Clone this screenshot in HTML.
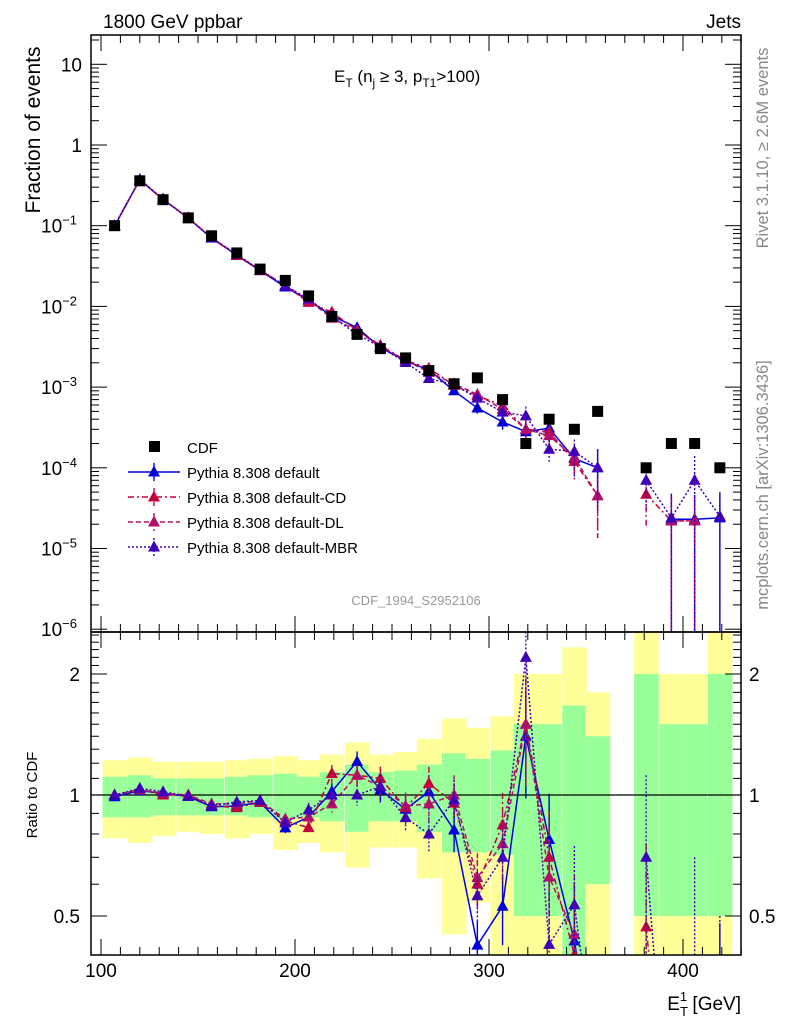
<!DOCTYPE html>
<html><head><meta charset="utf-8"><style>
html,body{margin:0;background:#fff;width:786px;height:1024px;overflow:hidden}
svg{display:block;font-family:"Liberation Sans",sans-serif}
</style></head><body>
<svg id="c" width="786" height="1024" viewBox="0 0 786 1024">
<defs>
<clipPath id="cm"><rect x="91" y="35" width="650" height="597"/></clipPath>
<clipPath id="cr"><rect x="91" y="632" width="650" height="323"/></clipPath>
</defs>
<g id="bands" clip-path="url(#cr)"></g>
<g id="main" clip-path="url(#cm)"></g>
<g id="ratio" clip-path="url(#cr)"></g>
<g id="axes"></g>
<text x="103" y="28" font-size="19">1800 GeV ppbar</text>
<text x="741" y="28" font-size="19" text-anchor="end">Jets</text>
<text x="334" y="82" font-size="17">E<tspan font-size="12" dy="5">T</tspan><tspan dy="-5"> (n</tspan><tspan font-size="12" dy="5">j</tspan><tspan dy="-5"> ≥ 3, p</tspan><tspan font-size="12" dy="5">T1</tspan><tspan dy="-5">&gt;100)</tspan></text>
<text x="416" y="605" font-size="13" fill="#999" text-anchor="middle">CDF_1994_S2952106</text>
<text transform="translate(40,130) rotate(-90)" font-size="21" text-anchor="middle">Fraction of events</text>
<text transform="translate(37,795) rotate(-90)" font-size="15" text-anchor="middle">Ratio to CDF</text>
<text x="741" y="1010" font-size="19" text-anchor="end">E<tspan font-size="13" dy="6">T</tspan><tspan font-size="13" dy="-15" dx="-8">1</tspan><tspan dy="9"> [GeV]</tspan></text>
<text transform="translate(768,148) rotate(-90)" font-size="16.5" fill="#888" text-anchor="middle">Rivet 3.1.10, ≥ 2.6M events</text>
<text transform="translate(768,485) rotate(-90)" font-size="16.5" fill="#888" text-anchor="middle">mcplots.cern.ch [arXiv:1306.3436]</text>
<g id="legend"></g>
</svg>
<script>
const centers=[107,120,132,145,157,170,182,195,207,219,232,244,257,269,282,294,307,319,331,344,356,369,381,394,406,419];
const cdf=[0.1,0.36,0.21,0.125,0.075,0.046,0.029,0.021,0.0135,0.0075,0.0045,0.003,0.0023,0.0016,0.0011,0.0013,0.0007,0.0002,0.0004,0.0003,0.0005,null,1e-4,2e-4,2e-4,1e-4];
const mcDefault=[0.099,0.369,0.212,0.124,0.0701,0.0432,0.0278,0.0174,0.0119,0.00765,0.00545,0.00309,0.00212,0.00163,0.0009,0.00055,0.00037,0.00028,0.00031,0.00013,0.0001,null,null,2.3e-5,2.3e-5,2.4e-5];
const mcCD=[0.1,0.371,0.21,0.125,0.0705,0.0428,0.0278,0.0181,0.0112,0.00848,0.00504,0.0033,0.00214,0.00171,0.00105,0.00078,0.00059,0.0003,0.00028,0.00012,4.5e-5,null,4.7e-5,2.2e-5,2.2e-5,null];
const mcDL=[0.1,0.371,0.212,0.125,0.0713,0.0437,0.0281,0.0183,0.0119,0.00713,0.00504,0.00315,0.00216,0.00152,0.0011,0.00081,0.00053,0.0003,0.00025,0.000135,4.5e-5,null,null,2.2e-5,2.2e-5,null];
const mcMBR=[0.1,0.374,0.214,0.124,0.0705,0.0442,0.0281,0.0179,0.0124,0.0075,0.0045,0.00315,0.00202,0.00128,0.00107,0.00073,0.00049,0.00044,0.00017,0.00016,0.0001,null,7e-5,2.4e-5,7e-5,2.5e-5];
const mcRelErr=[0.01,0.01,0.01,0.01,0.01,0.015,0.02,0.03,0.04,0.05,0.06,0.07,0.08,0.1,0.12,0.15,0.2,0.3,0.3,0.4,0.7,0,0.6,1,1,1];
const greenLo=[0.88,0.88,0.89,0.89,0.89,0.89,0.88,0.87,0.88,0.86,0.81,0.86,0.86,0.81,0.72,0.72,0.71,0.5,0.5,0.38,0.6,null,0.5,0.5,0.5,0.5];
const greenHi=[1.11,1.12,1.10,1.10,1.10,1.11,1.12,1.13,1.11,1.14,1.19,1.14,1.15,1.19,1.27,1.23,1.29,1.5,1.5,1.67,1.4,null,2.0,1.5,1.5,2.0];
const yellowLo=[0.78,0.76,0.79,0.81,0.80,0.78,0.80,0.73,0.76,0.72,0.66,0.74,0.74,0.62,0.45,0.54,0.40,0.3,0.3,0.3,0.3,null,0.3,0.3,0.3,0.3];
const yellowHi=[1.22,1.24,1.21,1.21,1.21,1.22,1.23,1.25,1.22,1.26,1.35,1.26,1.28,1.38,1.55,1.47,1.57,2.0,2.0,2.33,1.8,null,3,2.0,2.0,3];
const xTickLabels=[100,200,300,400];
const binHalf=6.2;

const NS="http://www.w3.org/2000/svg";
const xs=v=>101+(v-100)*1.94;
const ym=v=>145-80.7*Math.log10(v);
const yr=r=>795-402*Math.log10(r);
function mk(tag,attrs,parent){const e=document.createElementNS(NS,tag);for(const k in attrs)e.setAttribute(k,attrs[k]);parent.appendChild(e);return e;}
const gB=document.getElementById('bands'),gM=document.getElementById('main'),gR=document.getElementById('ratio'),gA=document.getElementById('axes'),gL=document.getElementById('legend');

centers.forEach((c,i)=>{
  if(greenLo[i]==null)return;
  const x0=xs(c-binHalf),w=xs(c+binHalf)-x0;
  const y=mk('rect',{x:x0,y:yr(yellowHi[i]),width:w+0.5,height:yr(yellowLo[i])-yr(yellowHi[i]),fill:'#ffff99'},gB);
  
  
  const g=mk('rect',{x:x0,y:yr(greenHi[i]),width:w+0.5,height:yr(greenLo[i])-yr(greenHi[i]),fill:'#99ff99'},gB);
  
  
});
mk('line',{x1:91,x2:741,y1:yr(1),y2:yr(1),stroke:'#000','stroke-width':1.3},gR);

function tri(p,x,y,col){return mk('polygon',{points:`${x},${y-6.5} ${x-6},${y+4.5} ${x+6},${y+4.5}`,fill:col},p);}
const series=[
 {name:'Pythia 8.308 default',v:mcDefault,col:'#0000dd',dash:'',id:'default'},
 {name:'Pythia 8.308 default-CD',v:mcCD,col:'#c4003c',dash:'6,3,2,3',id:'cd'},
 {name:'Pythia 8.308 default-DL',v:mcDL,col:'#b0106a',dash:'5,3',id:'dl'},
 {name:'Pythia 8.308 default-MBR',v:mcMBR,col:'#4000b8',dash:'2,2',id:'mbr'}
];
function drawSeries(s,g,fy,ratio,bottom){
  let pts=[];const segs=[];
  centers.forEach((c,i)=>{
    let v=s.v[i];
    if(v==null||(ratio&&cdf[i]==null)){if(pts.length)segs.push(pts);pts=[];return;}
    const val=ratio?v/cdf[i]:v;
    pts.push([xs(c),fy(val)]);
    const e=mcRelErr[i]*val;
    const lo=val-e>0?Math.min(fy(val-e),bottom):bottom;
    const eb=mk('line',{x1:xs(c),x2:xs(c),y1:fy(val+e),y2:lo,stroke:s.col,'stroke-width':1.4,'stroke-dasharray':s.dash},g);
    
    
  });
  if(pts.length)segs.push(pts);
  segs.forEach(p=>{const l=mk('polyline',{points:p.map(q=>q.join(',')).join(' '),fill:'none',stroke:s.col,'stroke-width':1.5,'stroke-dasharray':s.dash},g);
    
    
    p.forEach(q=>{const t=tri(g,q[0],q[1],s.col);
      
      });});
}
series.forEach(s=>drawSeries(s,gM,ym,false,632));
series.forEach(s=>drawSeries(s,gR,yr,true,955));
centers.forEach((c,i)=>{if(cdf[i]==null)return;
  const r=mk('rect',{x:xs(c)-5.5,y:ym(cdf[i])-5.5,width:11,height:11,fill:'#000'},gM);
  
  });

[[35,632],[632,955]].forEach(([t,b])=>{const f=mk('rect',{x:91,y:t,width:650,height:b-t,fill:'none',stroke:'#000','stroke-width':1.5},gA);
  
  });
for(let v=100;v<=430;v+=10){const x=xs(v),L=v%100==0?16:8;
  [[632,-1],[955,-1],[35,1],[632,1]].forEach(([y,d])=>mk('line',{x1:x,x2:x,y1:y,y2:y+d*L,stroke:'#000','stroke-width':1},gA));}
xTickLabels.forEach(v=>{const t=mk('text',{x:xs(v),y:977,'font-size':19,'text-anchor':'middle'},gA);t.textContent=v;
  
  });
for(let e=-6;e<=1;e++){for(let m=1;m<10;m++){const v=m*Math.pow(10,e),y=ym(v);if(y<35||y>632)continue;const L=m==1?16:8;
  mk('line',{x1:91,x2:91+L,y1:y,y2:y,stroke:'#000'},gA);mk('line',{x1:741,x2:741-L,y1:y,y2:y,stroke:'#000'},gA);}
  const y=ym(Math.pow(10,e));const t=mk('text',{x:82,y:y+7,'font-size':19,'text-anchor':'end'},gA);
  
  
  if(e==1)t.textContent='10';else if(e==0)t.textContent='1';else{t.innerHTML='10<tspan font-size="13" dy="-8">−'+(-e)+'</tspan>';t.setAttribute('x',77);}}
for(let k=4;k<=25;k++){const r=k/10,y=yr(r);if(y<632||y>955)continue;const maj=(k==5||k==10||k==20);const L=maj?16:8;
  mk('line',{x1:91,x2:91+L,y1:y,y2:y,stroke:'#000'},gA);mk('line',{x1:741,x2:741-L,y1:y,y2:y,stroke:'#000'},gA);}
[['2',2],['1',1],['0.5',0.5]].forEach(([s,v])=>{const a=mk('text',{x:80,y:yr(v)+7,'font-size':19,'text-anchor':'end'},gA);a.textContent=s;
  
  
  const b=mk('text',{x:749,y:yr(v)+7,'font-size':19},gA);b.textContent=s;
  
  });
const lg=[{name:'CDF',col:'#000',dash:'',sq:true}].concat(series);
lg.forEach((s,k)=>{const y=447+25*k;
  if(s.sq){mk('rect',{x:149,y:y-6,width:11,height:11,fill:'#000'},gL);}
  else{mk('line',{x1:128,x2:180,y1:y,y2:y,stroke:s.col,'stroke-width':1.5,'stroke-dasharray':s.dash},gL);
    mk('line',{x1:154,x2:154,y1:y-9,y2:y+9,stroke:s.col,'stroke-width':1.4,'stroke-dasharray':s.dash},gL);tri(gL,154,y,s.col);}
  const t=mk('text',{x:187,y:y+6,'font-size':15},gL);t.textContent=s.name;
  
  });
</script>
</body></html>
